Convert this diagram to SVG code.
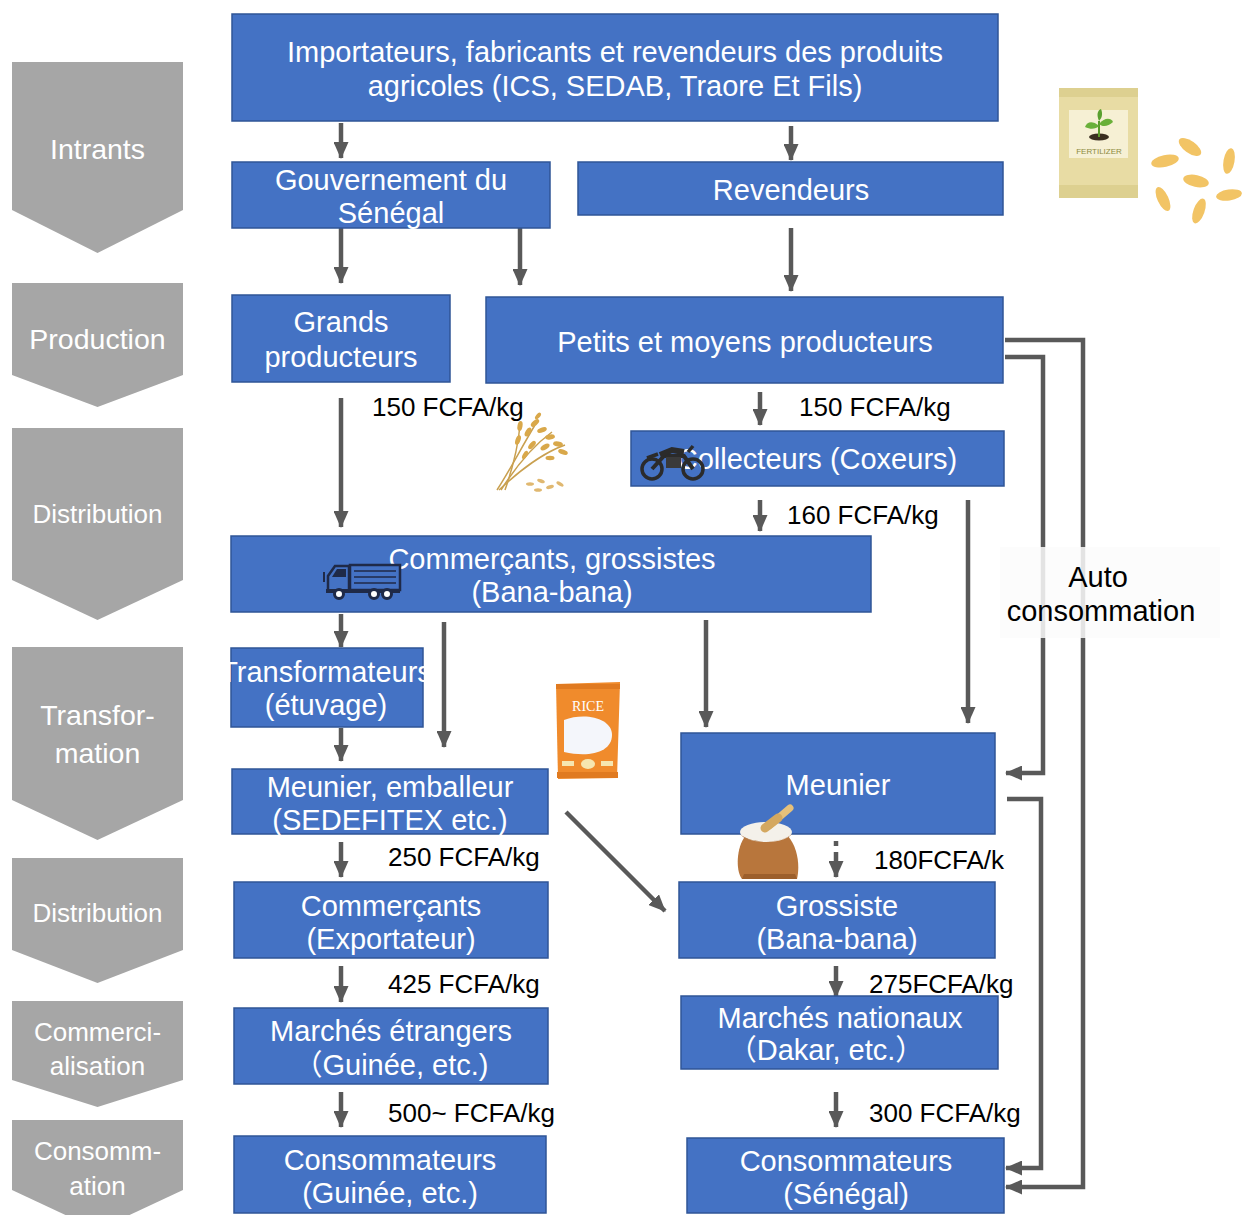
<svg xmlns="http://www.w3.org/2000/svg" width="1242" height="1215" viewBox="0 0 1242 1215">
  <defs>
    <style>
      .stage { fill: #a6a6a6; }
      .stage-t { fill: #ffffff; font-family: "Liberation Sans", Arial, sans-serif; font-size: 28.5px; text-anchor: middle; }
      .stage-s { font-size: 26px; }
      .box { fill: #4472c4; stroke: #2f5597; stroke-width: 1.5; }
      .box-t { fill: #ffffff; font-family: "Liberation Sans", "Noto Sans CJK SC", Arial, sans-serif; font-size: 29px; text-anchor: middle; }
      .price { fill: #000000; font-family: "Liberation Sans", Arial, sans-serif; font-size: 26px; }
      .flow { fill: none; stroke: #595959; stroke-width: 4.5; marker-end: url(#head); }
      .note { fill: #000000; font-family: "Liberation Sans", Arial, sans-serif; font-size: 29px; text-anchor: middle; }
    </style>
    <marker id="head" viewBox="0 0 17 15" markerUnits="userSpaceOnUse" markerWidth="17" markerHeight="15" refX="16" refY="7.5" orient="auto">
      <path d="M0,0 L17,7.5 L0,15 Z" fill="#595959"/>
    </marker>
  </defs>

  <rect width="1242" height="1215" fill="#ffffff"/>

  <!-- Stage chevrons on the left -->
  <g id="stages">
    <g id="stage-intrants">
      <polygon class="stage" points="12,62 183,62 183,210 97.5,253 12,210"/>
      <text class="stage-t" x="97.5" y="159">Intrants</text>
    </g>
    <g id="stage-production">
      <polygon class="stage" points="12,283 183,283 183,375 97.5,407 12,375"/>
      <text class="stage-t" x="97.5" y="349">Production</text>
    </g>
    <g id="stage-distribution-1">
      <polygon class="stage" points="12,428 183,428 183,580 97.5,620 12,580"/>
      <text class="stage-t stage-s" x="97.5" y="523">Distribution</text>
    </g>
    <g id="stage-transformation">
      <polygon class="stage" points="12,647 183,647 183,800 97.5,840 12,800"/>
      <text class="stage-t" x="97.5" y="725">Transfor-</text>
      <text class="stage-t" x="97.5" y="763">mation</text>
    </g>
    <g id="stage-distribution-2">
      <polygon class="stage" points="12,858 183,858 183,950 97.5,983 12,950"/>
      <text class="stage-t stage-s" x="97.5" y="922">Distribution</text>
    </g>
    <g id="stage-commercialisation">
      <polygon class="stage" points="12,1001 183,1001 183,1080 97.5,1107 12,1080"/>
      <text class="stage-t stage-s" x="97.5" y="1041">Commerci-</text>
      <text class="stage-t stage-s" x="97.5" y="1075">alisation</text>
    </g>
    <g id="stage-consommation">
      <polygon class="stage" points="12,1120 183,1120 183,1190 97.5,1230 12,1190"/>
      <text class="stage-t stage-s" x="97.5" y="1160">Consomm-</text>
      <text class="stage-t stage-s" x="97.5" y="1195">ation</text>
    </g>
  </g>

  <!-- Connectors -->
  <g id="connectors">
    <path class="flow" d="M341,123 V158"/>
    <path class="flow" d="M791,126 V160"/>
    <path class="flow" d="M341,220 V283"/>
    <path class="flow" d="M520,223 V285"/>
    <path class="flow" d="M791,228 V291"/>
    <path class="flow" d="M341,398 V527"/>
    <path class="flow" d="M760,392 V425"/>
    <path class="flow" d="M760,500 V531"/>
    <path class="flow" d="M968,500 V723"/>
    <path class="flow" d="M341,614 V647"/>
    <path class="flow" d="M444,622 V747"/>
    <path class="flow" d="M706,620 V727"/>
    <path class="flow" d="M341,728 V761"/>
    <path class="flow" d="M566,812 L665,911"/>
    <path class="flow" d="M341,842 V877"/>
    <path class="flow" d="M836,841 V877" stroke-dasharray="5 6 40"/>
    <path class="flow" d="M341,966 V1002"/>
    <path class="flow" d="M836,966 V997"/>
    <path class="flow" d="M341,1092 V1127"/>
    <path class="flow" d="M836,1092 V1127"/>
    <!-- self-consumption loops on the right -->
    <path class="flow" d="M1005,340 H1083 V1187 H1006"/>
    <path class="flow" d="M1005,357 H1043 V773 H1006"/>
    <path class="flow" d="M1007,799 H1041 V1168 H1006"/>
  </g>

  <!-- Auto consommation label -->
  <g id="label-auto">
    <rect x="1000" y="547" width="220" height="91" fill="#fbfbfb" fill-opacity="0.85"/>
    <text class="note" x="1098" y="587">Auto</text>
    <text class="note" x="1101" y="621">consommation</text>
  </g>

  <!-- Nodes -->
  <g id="node-importateurs">
    <rect class="box" x="232" y="14" width="766" height="107"/>
    <text class="box-t" x="615" y="62">Importateurs, fabricants et revendeurs des produits</text>
    <text class="box-t" x="615" y="96">agricoles (ICS, SEDAB, Traore Et Fils)</text>
  </g>
  <g id="node-gouvernement">
    <rect class="box" x="232" y="162" width="318" height="66"/>
    <text class="box-t" x="391" y="190">Gouvernement du</text>
    <text class="box-t" x="391" y="223">Sénégal</text>
  </g>
  <g id="node-revendeurs">
    <rect class="box" x="578" y="162" width="425" height="53"/>
    <text class="box-t" x="791" y="200">Revendeurs</text>
  </g>
  <g id="node-grands">
    <rect class="box" x="232" y="295" width="218" height="87"/>
    <text class="box-t" x="341" y="332">Grands</text>
    <text class="box-t" x="341" y="367">producteurs</text>
  </g>
  <g id="node-petits">
    <rect class="box" x="486" y="297" width="517" height="86"/>
    <text class="box-t" x="745" y="352">Petits et moyens producteurs</text>
  </g>
  <g id="node-collecteurs">
    <rect class="box" x="631" y="431" width="373" height="55"/>
    <text class="box-t" x="817" y="469">Collecteurs (Coxeurs)</text>
  </g>
  <g id="node-commercants">
    <rect class="box" x="231" y="536" width="640" height="76"/>
    <text class="box-t" x="552" y="569">Commerçants, grossistes</text>
    <text class="box-t" x="552" y="602">(Bana-bana)</text>
  </g>
  <g id="node-transformateurs">
    <rect class="box" x="231" y="648" width="192" height="79"/>
    <text class="box-t" x="326" y="682">Transformateurs</text>
    <text class="box-t" x="326" y="715">(étuvage)</text>
  </g>
  <g id="node-meunier-emballeur">
    <rect class="box" x="232" y="769" width="316" height="65"/>
    <text class="box-t" x="390" y="797">Meunier, emballeur</text>
    <text class="box-t" x="390" y="830">(SEDEFITEX etc.)</text>
  </g>
  <g id="node-meunier">
    <rect class="box" x="681" y="733" width="314" height="101"/>
    <text class="box-t" x="838" y="795">Meunier</text>
  </g>
  <g id="node-exportateur">
    <rect class="box" x="234" y="882" width="314" height="76"/>
    <text class="box-t" x="391" y="916">Commerçants</text>
    <text class="box-t" x="391" y="949">(Exportateur)</text>
  </g>
  <g id="node-grossiste">
    <rect class="box" x="679" y="882" width="316" height="76"/>
    <text class="box-t" x="837" y="916">Grossiste</text>
    <text class="box-t" x="837" y="949">(Bana-bana)</text>
  </g>
  <g id="node-marches-etrangers">
    <rect class="box" x="234" y="1008" width="314" height="76"/>
    <text class="box-t" x="391" y="1041">Marchés étrangers</text>
    <text class="box-t" x="391" y="1075">（Guinée, etc.)</text>
  </g>
  <g id="node-marches-nationaux">
    <rect class="box" x="681" y="996" width="317" height="73"/>
    <text class="box-t" x="840" y="1028">Marchés nationaux</text>
    <text class="box-t" x="826" y="1060">（Dakar, etc.）</text>
  </g>
  <g id="node-consommateurs-guinee">
    <rect class="box" x="234" y="1136" width="312" height="77"/>
    <text class="box-t" x="390" y="1170">Consommateurs</text>
    <text class="box-t" x="390" y="1203">(Guinée, etc.)</text>
  </g>
  <g id="node-consommateurs-senegal">
    <rect class="box" x="687" y="1138" width="317" height="75"/>
    <text class="box-t" x="846" y="1171">Consommateurs</text>
    <text class="box-t" x="846" y="1204">(Sénégal)</text>
  </g>

  <!-- Price labels -->
  <g id="prices">
    <text class="price" x="372" y="416">150 FCFA/kg</text>
    <text class="price" x="799" y="416">150 FCFA/kg</text>
    <text class="price" x="787" y="524">160 FCFA/kg</text>
    <text class="price" x="388" y="866">250 FCFA/kg</text>
    <text class="price" x="874" y="869">180FCFA/k</text>
    <text class="price" x="388" y="993">425 FCFA/kg</text>
    <text class="price" x="869" y="993">275FCFA/kg</text>
    <text class="price" x="388" y="1122">500~ FCFA/kg</text>
    <text class="price" x="869" y="1122">300 FCFA/kg</text>
  </g>

  <!-- Illustrations -->
  <g id="fertilizer-bag">
    <rect x="1059" y="88" width="79" height="110" fill="#e8dca4"/>
    <rect x="1059" y="88" width="79" height="9" fill="#ddd090"/>
    <rect x="1059" y="185" width="79" height="13" fill="#ddd090"/>
    <rect x="1069" y="110" width="59" height="48" fill="#f6f0d4"/>
    <ellipse cx="1099" cy="137" rx="10" ry="3.5" fill="#3a2e20"/>
    <path d="M1099,137 V121" stroke="#5a9a2a" stroke-width="2"/>
    <path d="M1099,126 C1092,120 1087,122 1085,127 C1091,130 1096,129 1099,126 Z" fill="#6ab03a"/>
    <path d="M1099,124 C1105,117 1111,118 1113,122 C1108,127 1102,127 1099,124 Z" fill="#6ab03a"/>
    <path d="M1099,121 C1096,114 1098,110 1101,109 C1103,114 1102,118 1099,121 Z" fill="#5aa030"/>
    <text x="1099" y="154" font-family="Liberation Sans, Arial, sans-serif" font-size="8" fill="#8c8a40" text-anchor="middle">FERTILIZER</text>
  </g>
  <g id="grains" fill="#f2c465">
    <ellipse cx="1190" cy="147" rx="13" ry="6" transform="rotate(35 1190 147)"/>
    <ellipse cx="1229" cy="161" rx="13" ry="5.5" transform="rotate(-80 1229 161)"/>
    <ellipse cx="1165" cy="161" rx="14" ry="6" transform="rotate(-12 1165 161)"/>
    <ellipse cx="1196" cy="181" rx="13" ry="6" transform="rotate(12 1196 181)"/>
    <ellipse cx="1229" cy="195" rx="13" ry="5.5" transform="rotate(-8 1229 195)"/>
    <ellipse cx="1163" cy="199" rx="13" ry="5.5" transform="rotate(65 1163 199)"/>
    <ellipse cx="1199" cy="211" rx="13" ry="5.5" transform="rotate(-70 1199 211)"/>
  </g>
  <g id="rice-plant">
    <g fill="none" stroke="#c9a050" stroke-width="1.5">
      <path d="M497,490 C510,470 520,450 535,425"/>
      <path d="M501,490 C515,468 530,448 552,432"/>
      <path d="M505,490 C512,470 518,448 520,425"/>
      <path d="M499,490 C520,470 545,452 565,445"/>
    </g>
    <g fill="#d9a84a">
      <ellipse cx="535" cy="423" rx="5" ry="2.5" transform="rotate(-40 535 423)"/>
      <ellipse cx="542" cy="430" rx="5" ry="2.5" transform="rotate(-20 542 430)"/>
      <ellipse cx="528" cy="432" rx="5" ry="2.5" transform="rotate(-60 528 432)"/>
      <ellipse cx="550" cy="437" rx="5" ry="2.5" transform="rotate(-10 550 437)"/>
      <ellipse cx="520" cy="426" rx="5" ry="2.5" transform="rotate(-80 520 426)"/>
      <ellipse cx="518" cy="440" rx="5" ry="2.5" transform="rotate(-70 518 440)"/>
      <ellipse cx="558" cy="444" rx="5" ry="2.5" transform="rotate(10 558 444)"/>
      <ellipse cx="545" cy="447" rx="5" ry="2.5" transform="rotate(-30 545 447)"/>
      <ellipse cx="563" cy="452" rx="5" ry="2.5" transform="rotate(20 563 452)"/>
      <ellipse cx="532" cy="445" rx="5" ry="2.5" transform="rotate(-50 532 445)"/>
      <ellipse cx="538" cy="416" rx="4" ry="2" transform="rotate(-50 538 416)"/>
      <ellipse cx="525" cy="455" rx="4.5" ry="2.2" transform="rotate(-60 525 455)"/>
      <ellipse cx="550" cy="458" rx="4.5" ry="2.2" transform="rotate(0 550 458)"/>
    </g>
    <g fill="#e0b870">
      <ellipse cx="530" cy="484" rx="4" ry="1.8"/>
      <ellipse cx="541" cy="481" rx="4" ry="1.8" transform="rotate(20 541 481)"/>
      <ellipse cx="550" cy="487" rx="4" ry="1.8" transform="rotate(-15 550 487)"/>
      <ellipse cx="538" cy="490" rx="4" ry="1.8"/>
      <ellipse cx="560" cy="484" rx="4" ry="1.8" transform="rotate(30 560 484)"/>
    </g>
  </g>
  <g id="motorcycle" fill="none" stroke="#2b2b2b" stroke-width="3.5">
    <circle cx="652" cy="469" r="10"/>
    <circle cx="693" cy="469" r="10"/>
    <path d="M652,469 L664,456 L684,456 L693,469" stroke-width="4"/>
    <path d="M660,455 L672,450 L684,452" stroke-width="6"/>
    <path d="M647,458 L658,454"/>
    <path d="M688,452 L693,446"/>
    <rect x="666" y="457" width="15" height="11" fill="#3a3a3a" stroke="none"/>
  </g>
  <g id="truck">
    <rect x="350" y="565" width="50" height="25" fill="#4472c4" stroke="#1f2a48" stroke-width="2.5"/>
    <path d="M354,571 H396 M354,577 H396 M354,583 H396" stroke="#1f2a48" stroke-width="1.5"/>
    <path d="M328,591 V576 L335,566 H349 V591 Z" fill="#4472c4" stroke="#1f2a48" stroke-width="2.5"/>
    <path d="M332,577 L337,569 H346 V577 Z" fill="#1f2a48"/>
    <path d="M324,572 V582" stroke="#1f2a48" stroke-width="2"/>
    <rect x="326" y="589" width="74" height="4" fill="#1f2a48"/>
    <g fill="#ffffff" stroke="#1f2a48" stroke-width="3">
      <circle cx="339" cy="594" r="4.5"/>
      <circle cx="374" cy="594" r="4.5"/>
      <circle cx="387" cy="594" r="4.5"/>
    </g>
  </g>
  <g id="rice-bag">
    <path d="M556,684 L620,682 L617,778 L558,779 Z" fill="#f08b2c"/>
    <rect x="556" y="684" width="64" height="5" fill="#e07a20"/>
    <rect x="557" y="772" width="61" height="6" fill="#e07a20"/>
    <text x="588" y="711" font-family="Liberation Serif, serif" font-size="14" fill="#ffffff" text-anchor="middle">RICE</text>
    <path d="M564,720 C585,712 612,718 612,735 C612,752 590,758 564,752 Z" fill="#f4f6fb"/>
    <rect x="562" y="761" width="12" height="5" fill="#f6e6b0"/>
    <ellipse cx="588" cy="764" rx="7" ry="5" fill="#f6e6b0"/>
    <rect x="601" y="761" width="12" height="5" fill="#f6e6b0"/>
  </g>
  <g id="flour-sack">
    <path d="M744,838 C736,850 736,872 742,879 L797,879 C800,866 798,848 788,836 Z" fill="#b8763c"/>
    <path d="M742,879 L797,879 L795,874 L744,874 Z" fill="#9c5f2c"/>
    <ellipse cx="766" cy="832" rx="26" ry="10" fill="#f4f1ea"/>
    <path d="M740,834 C750,844 782,844 792,834 C788,842 748,846 740,834 Z" fill="#a86a34"/>
    <path d="M769,826 L790,808" stroke="#e6c07a" stroke-width="7" stroke-linecap="round"/>
    <path d="M765,828 L778,818" stroke="#d4a860" stroke-width="9" stroke-linecap="round"/>
  </g>
</svg>
